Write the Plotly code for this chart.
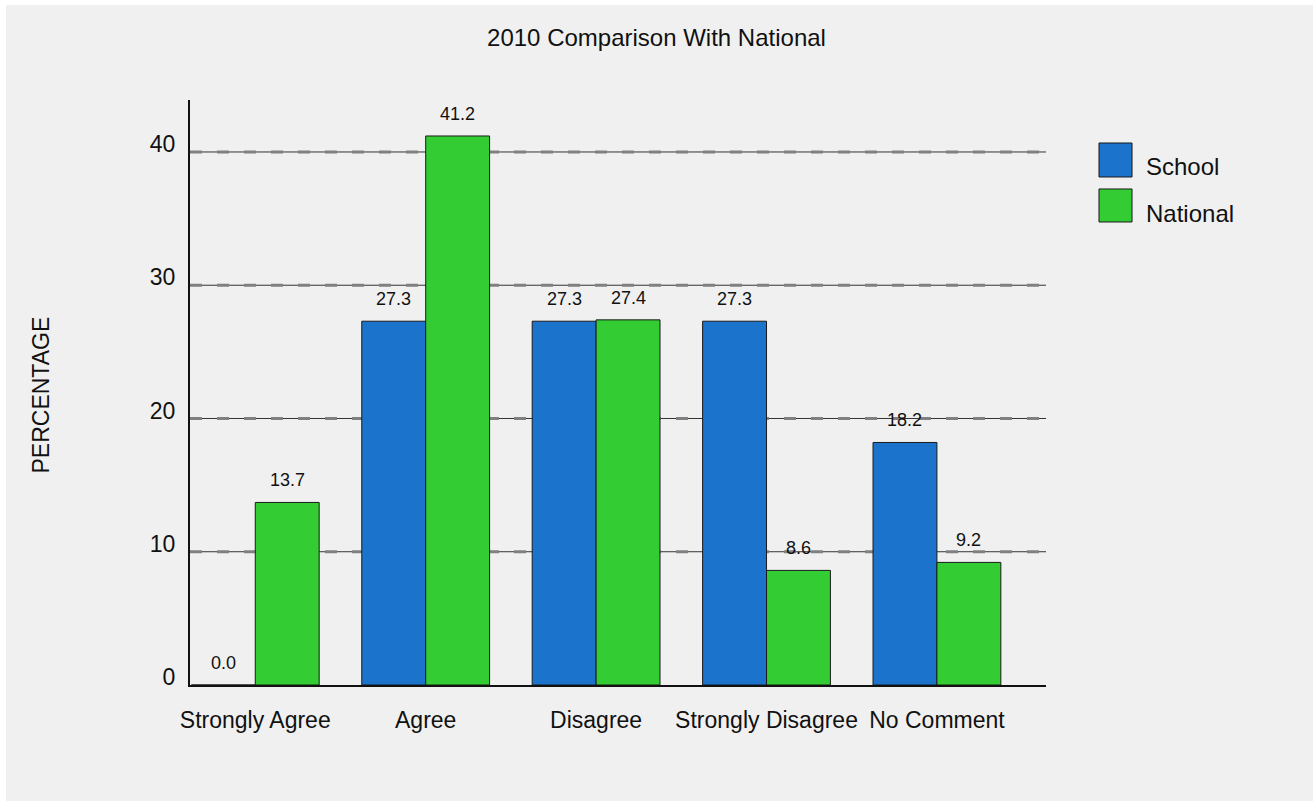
import plotly.graph_objects as go

# ---- data ----
categories = ["Strongly Agree", "Agree", "Disagree", "Strongly Disagree", "No Comment"]
school = [0.0, 27.3, 27.3, 27.3, 18.2]
national = [13.7, 41.2, 27.4, 8.6, 9.2]
series_names = ["School", "National"]
y_ticks = [0, 10, 20, 30, 40]

# ---- style ----
FONT = "Liberation Sans, Arial, sans-serif"
BG = "#f0f0f0"
BLUE = "#1b73cc"
GREEN = "#33cc33"
EDGE = "#1a1a1a"
BARGAP = 0.25

fig = go.Figure()
for name, vals, col in [(series_names[0], school, BLUE), (series_names[1], national, GREEN)]:
    fig.add_trace(go.Bar(
        name=name, x=categories, y=vals,
        marker=dict(color=col, line=dict(color=EDGE, width=1)),
        showlegend=False, hoverinfo="x+y",
    ))

# value labels above bars
off = (1 - BARGAP) / 4
annotations = []
for si, vals in enumerate([school, national]):
    for ci, v in enumerate(vals):
        annotations.append(dict(
            x=ci + (-off if si == 0 else off), y=v, xref="x", yref="y",
            text=f"{v:.1f}", showarrow=False, yanchor="bottom", yshift=10,
            font=dict(family=FONT, size=18, color="#111"),
        ))

# y-axis title
annotations.append(dict(
    x=-0.174, y=0.495, xref="paper", yref="paper", text="PERCENTAGE",
    textangle=-90, showarrow=False, xanchor="center", yanchor="middle",
    font=dict(family=FONT, size=23, color="#111"),
))

# legend (custom, large swatches)
shapes = []
leg_items = [(series_names[0], BLUE, 0.9265, 0.8684, 0.8855),
             (series_names[1], GREEN, 0.8479, 0.7915, 0.8068)]
for name, col, y0, y1, ty in leg_items:
    shapes.append(dict(type="rect", xref="paper", yref="paper",
                       x0=1.0619, x1=1.1005, y0=y1, y1=y0,
                       fillcolor=col, line=dict(color=EDGE, width=1), layer="above"))
    annotations.append(dict(x=1.1145, y=ty, xref="paper", yref="paper", text=name,
                            showarrow=False, xanchor="left", yanchor="middle",
                            font=dict(family=FONT, size=24, color="#111")))

# gridlines: thin dark line + thick gray dashes
for t in y_ticks[1:]:
    shapes.append(dict(type="line", xref="paper", yref="y", x0=0, x1=1, y0=t, y1=t,
                       line=dict(color="#333333", width=1), layer="below"))
    shapes.append(dict(type="line", xref="paper", yref="y", x0=0, x1=1, y0=t, y1=t,
                       line=dict(color="#808080", width=3, dash="12px,15px"), layer="below"))

# white outer border strips (top and left)
shapes.append(dict(type="rect", xref="paper", yref="paper", x0=-0.3, x1=-0.2150,
                   y0=-0.3, y1=1.3, fillcolor="white", line=dict(width=0), layer="above"))
shapes.append(dict(type="rect", xref="paper", yref="paper", x0=-0.3, x1=1.4,
                   y0=1.1624, y1=1.3, fillcolor="white", line=dict(width=0), layer="above"))

fig.update_layout(
    width=1313, height=801,
    margin=dict(l=190, r=267, t=100, b=116),
    paper_bgcolor=BG, plot_bgcolor=BG,
    barmode="group", bargap=BARGAP, bargroupgap=0,
    title=dict(text="2010 Comparison With National", x=0.5, xref="container",
               y=1 - 38 / 801, yanchor="middle", xanchor="center",
               font=dict(family=FONT, size=24, color="#111")),
    xaxis=dict(type="category", range=[-0.383, 4.64], showline=True, linecolor="#111",
               linewidth=2, showgrid=False, ticks="", ticklabelstandoff=13,
               tickfont=dict(family=FONT, size=23, color="#111"), fixedrange=True),
    yaxis=dict(range=[0, 43.9], tickvals=y_ticks, showline=True, linecolor="#111",
               linewidth=2, showgrid=False, zeroline=False, ticks="",
               ticklabelstandoff=8, ticklabelshift=-8,
               tickfont=dict(family=FONT, size=23, color="#111"), fixedrange=True),
    annotations=annotations,
    shapes=shapes,
    font=dict(family=FONT),
)

fig.write_html("out.html")
